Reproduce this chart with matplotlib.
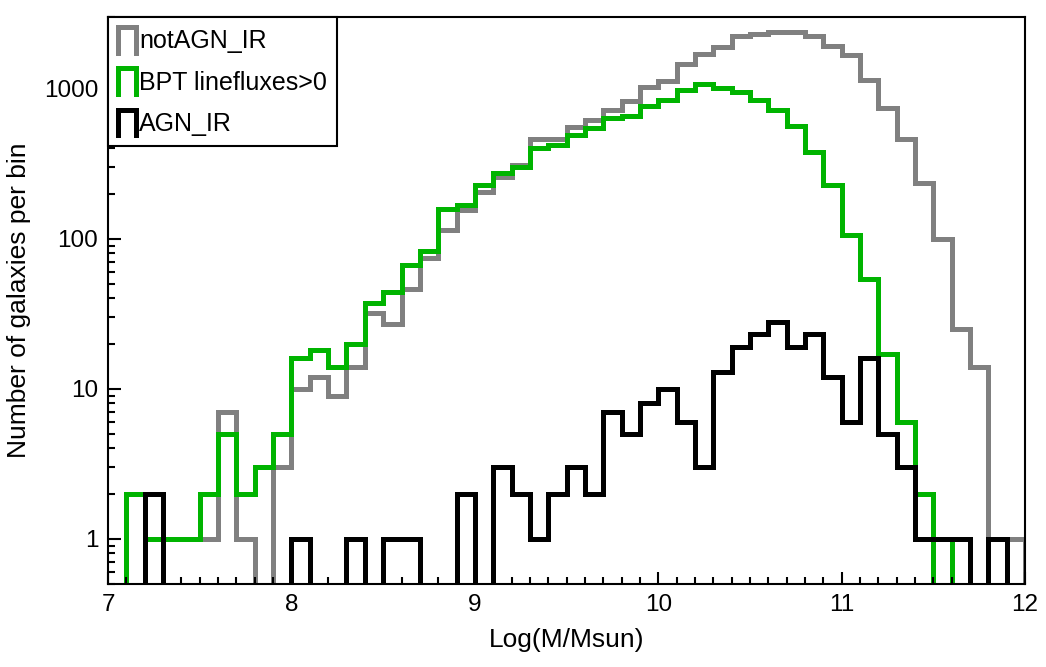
import numpy as np
import matplotlib
matplotlib.use("Agg")
import matplotlib.pyplot as plt
from matplotlib.lines import Line2D
from matplotlib.legend_handler import HandlerBase
from matplotlib.ticker import MultipleLocator, LogLocator, NullFormatter

plt.rcParams['font.family'] = ['Liberation Sans', 'DejaVu Sans']

# histogram bins: 7.0 ... 12.0 in steps of 0.1
bin_edges = np.round(np.arange(7.0, 12.0001, 0.1), 1)

not_agn_ir = [0, 0, 1, 1, 1, 1, 7, 1, 0, 3,
              10, 12, 9, 14, 32, 27, 46, 74, 114, 156,
              206, 259, 311, 460, 460, 553, 614, 723, 822, 1030,
              1120, 1460, 1710, 1905, 2230, 2300, 2375, 2375, 2233, 1914,
              1675, 1140, 742, 462, 236, 99, 25, 14, 1, 1]

bpt_linefluxes = [0, 2, 1, 1, 1, 2, 5, 2, 3, 5,
                  16, 18, 14, 20, 37, 44, 67, 83, 157, 168,
                  228, 276, 302, 401, 422, 492, 545, 637, 655, 770,
                  843, 975, 1075, 1009, 944, 846, 725, 560, 381, 228,
                  106, 54, 17, 6, 2, 0, 1, 0, 0, 0]

agn_ir = [0, 0, 2, 0, 0, 0, 0, 0, 0, 0,
          1, 0, 0, 1, 0, 1, 1, 0, 0, 2,
          0, 3, 2, 1, 2, 3, 2, 7, 5, 8,
          10, 6, 3, 13, 19, 23, 28, 19, 23, 12,
          6, 16, 5, 3, 1, 1, 1, 0, 1, 0]

labels = ['notAGN_IR', 'BPT linefluxes>0', 'AGN_IR']
colors = ['#808080', '#00b400', '#000000']

y_ticks = [1, 10, 100, 1000]
y_ticklabels = ['1', '10', '100', '1000']


class StepHandler(HandlerBase):
    # draws the little "Π" shaped step glyph used in the legend
    def create_artists(self, legend, orig_handle, xdescent, ydescent,
                       width, height, fontsize, trans):
        x0, y0 = -xdescent, -ydescent
        line = Line2D([x0, x0, x0 + width, x0 + width],
                      [y0, y0 + height, y0 + height, y0],
                      color=orig_handle.get_color(),
                      lw=orig_handle.get_linewidth(),
                      solid_joinstyle='miter', transform=trans)
        return [line]


fig = plt.figure(figsize=(10.46, 6.67), dpi=100)
ax = fig.add_axes([0.1033, 0.1244, 0.8767, 0.8501])

floor = 1e-2  # empty bins drop below the axis
handles = []
for counts, color, label in zip([not_agn_ir, bpt_linefluxes, agn_ir], colors, labels):
    vals = np.array(counts, dtype=float)
    vals[vals <= 0] = floor
    ax.stairs(vals, bin_edges, baseline=floor, color=color, lw=3.6,
              fill=False)
    handles.append(Line2D([], [], color=color, lw=3.6, label=label))

ax.set_yscale('log')
ax.set_xlim(7, 12)
ax.set_ylim(0.5, 3000)

ax.xaxis.set_major_locator(MultipleLocator(1))
ax.xaxis.set_minor_locator(MultipleLocator(0.1))
ax.set_yticks(y_ticks, labels=y_ticklabels)
ax.yaxis.set_minor_locator(LogLocator(base=10, subs=np.arange(2, 10)))
ax.yaxis.set_minor_formatter(NullFormatter())

ax.tick_params(which='both', direction='in', top=False, right=False,
               labelsize=17.5, width=1.5)
ax.tick_params(which='major', length=9, pad=7)
ax.tick_params(which='minor', length=5)
for s in ax.spines.values():
    s.set_linewidth(1.5)

ax.set_xlabel('Log(M/Msun)', fontsize=19, labelpad=9)
ax.set_ylabel('Number of galaxies per bin', fontsize=19, labelpad=9)

leg = ax.legend(handles=handles, loc='upper left', fontsize=18,
                handler_map={Line2D: StepHandler()},
                handlelength=0.7, handleheight=1.2, handletextpad=0.15,
                labelspacing=0.6, borderaxespad=0, borderpad=0.4,
                fancybox=False, framealpha=1, edgecolor='black')
leg.get_frame().set_linewidth(1.5)

fig.savefig('out.png', dpi=100)
